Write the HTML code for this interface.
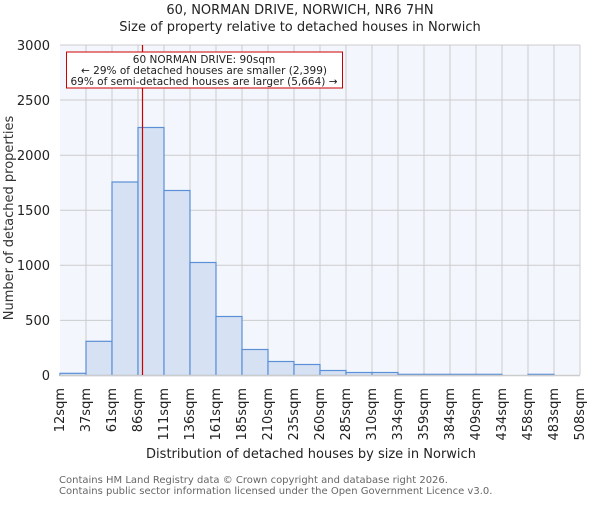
<!DOCTYPE html>
<html><head><meta charset="utf-8"><style>
body{margin:0;background:#fff}
svg text{font-family:"DejaVu Sans","Liberation Sans",sans-serif}
</style></head><body>
<svg width="600" height="500" xmlns="http://www.w3.org/2000/svg">
<text x="300" y="14" font-size="13" text-anchor="middle" fill="#222">60, NORMAN DRIVE, NORWICH, NR6 7HN</text>
<text x="300" y="31" font-size="13" text-anchor="middle" fill="#222">Size of property relative to detached houses in Norwich</text>
<rect x="60" y="45" width="520" height="330.5" fill="#f3f6fd"/>
<g stroke="#cccccc" stroke-width="1">
<line x1="60" y1="45" x2="580" y2="45"/><line x1="60" y1="100" x2="580" y2="100"/><line x1="60" y1="155.2" x2="580" y2="155.2"/><line x1="60" y1="210.3" x2="580" y2="210.3"/><line x1="60" y1="265.3" x2="580" y2="265.3"/><line x1="60" y1="320.4" x2="580" y2="320.4"/>
<line x1="86" y1="45" x2="86" y2="375"/><line x1="112" y1="45" x2="112" y2="375"/><line x1="138" y1="45" x2="138" y2="375"/><line x1="164" y1="45" x2="164" y2="375"/><line x1="190" y1="45" x2="190" y2="375"/><line x1="216" y1="45" x2="216" y2="375"/><line x1="242" y1="45" x2="242" y2="375"/><line x1="268" y1="45" x2="268" y2="375"/><line x1="294" y1="45" x2="294" y2="375"/><line x1="320" y1="45" x2="320" y2="375"/><line x1="346" y1="45" x2="346" y2="375"/><line x1="372" y1="45" x2="372" y2="375"/><line x1="398" y1="45" x2="398" y2="375"/><line x1="424" y1="45" x2="424" y2="375"/><line x1="450" y1="45" x2="450" y2="375"/><line x1="476" y1="45" x2="476" y2="375"/><line x1="502" y1="45" x2="502" y2="375"/><line x1="528" y1="45" x2="528" y2="375"/><line x1="554" y1="45" x2="554" y2="375"/><line x1="580" y1="45" x2="580" y2="375"/>
</g>
<g fill="#d6e1f3" stroke="#5b8fd6" stroke-width="1.2">
<rect x="60" y="373.3" width="26" height="2.2"/>
<rect x="86" y="341.3" width="26" height="34.2"/>
<rect x="112" y="182" width="26" height="193.5"/>
<rect x="138" y="127.5" width="26" height="248"/>
<rect x="164" y="190.5" width="26" height="185"/>
<rect x="190" y="262.5" width="26" height="113"/>
<rect x="216" y="316.5" width="26" height="59"/>
<rect x="242" y="349.5" width="26" height="26"/>
<rect x="268" y="361.5" width="26" height="14"/>
<rect x="294" y="364.5" width="26" height="11"/>
<rect x="320" y="370.5" width="26" height="5"/>
<rect x="346" y="372.5" width="26" height="3"/>
<rect x="372" y="372.5" width="26" height="3"/>
<rect x="398" y="374.3" width="26" height="1.2"/>
<rect x="424" y="374.3" width="26" height="1.2"/>
<rect x="450" y="374.3" width="26" height="1.2"/>
<rect x="476" y="374.3" width="26" height="1.2"/>
<rect x="528" y="374.3" width="26" height="1.2"/>
</g>
<line x1="60" y1="375.5" x2="580" y2="375.5" stroke="#cccccc" stroke-width="1.5"/>
<line x1="142.5" y1="45" x2="142.5" y2="375" stroke="#cc0000" stroke-width="1.2"/>
<rect x="66.5" y="52" width="276" height="36" fill="#fff" stroke="#cc0000" stroke-width="1"/>
<g font-size="10.5" text-anchor="middle" fill="#222">
<text x="204" y="63">60 NORMAN DRIVE: 90sqm</text>
<text x="204" y="74">← 29% of detached houses are smaller (2,399)</text>
<text x="204" y="85">69% of semi-detached houses are larger (5,664) →</text>
</g>
<g font-size="13" text-anchor="end" fill="#222">
<text x="50" y="50">3000</text><text x="50" y="105">2500</text><text x="50" y="160">2000</text><text x="50" y="215">1500</text><text x="50" y="270">1000</text><text x="50" y="325">500</text><text x="50" y="380">0</text>
</g>
<text transform="translate(13,218) rotate(-90)" font-size="13" text-anchor="middle" fill="#333">Number of detached properties</text>
<g font-size="13" text-anchor="end" fill="#222">
<text transform="translate(64,388) rotate(-90)">12sqm</text>
<text transform="translate(90,388) rotate(-90)">37sqm</text>
<text transform="translate(116,388) rotate(-90)">61sqm</text>
<text transform="translate(142,388) rotate(-90)">86sqm</text>
<text transform="translate(168,388) rotate(-90)">111sqm</text>
<text transform="translate(194,388) rotate(-90)">136sqm</text>
<text transform="translate(220,388) rotate(-90)">161sqm</text>
<text transform="translate(246,388) rotate(-90)">185sqm</text>
<text transform="translate(272,388) rotate(-90)">210sqm</text>
<text transform="translate(298,388) rotate(-90)">235sqm</text>
<text transform="translate(324,388) rotate(-90)">260sqm</text>
<text transform="translate(350,388) rotate(-90)">285sqm</text>
<text transform="translate(376,388) rotate(-90)">310sqm</text>
<text transform="translate(402,388) rotate(-90)">334sqm</text>
<text transform="translate(428,388) rotate(-90)">359sqm</text>
<text transform="translate(454,388) rotate(-90)">384sqm</text>
<text transform="translate(480,388) rotate(-90)">409sqm</text>
<text transform="translate(506,388) rotate(-90)">434sqm</text>
<text transform="translate(532,388) rotate(-90)">458sqm</text>
<text transform="translate(558,388) rotate(-90)">483sqm</text>
<text transform="translate(584,388) rotate(-90)">508sqm</text>
</g>
<text x="311" y="458" font-size="13" text-anchor="middle" fill="#222">Distribution of detached houses by size in Norwich</text>
<text x="59" y="483" font-size="10" fill="#666">Contains HM Land Registry data © Crown copyright and database right 2026.</text>
<text x="59" y="494" font-size="10" fill="#666">Contains public sector information licensed under the Open Government Licence v3.0.</text>
</svg>
</body></html>
